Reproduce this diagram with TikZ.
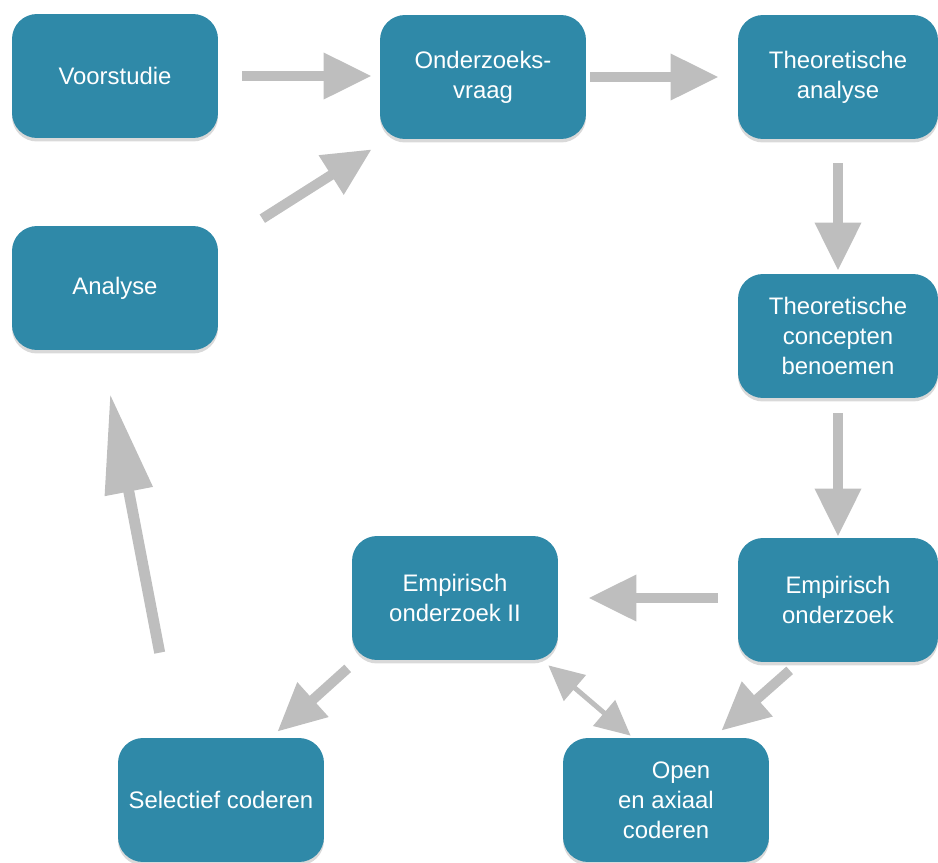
\documentclass[tikz,border=0pt]{standalone}
\usepackage{fontspec}
\setmainfont{Liberation Sans}
\usetikzlibrary{arrows.meta,shadows,calc}
\definecolor{boxteal}{RGB}{47,137,168}
\definecolor{arrowgray}{RGB}{190,190,190}
\begin{document}
\begin{tikzpicture}[x=0.02cm, y=-0.02cm,
		stap/.style = {fill=boxteal, rounded corners=0.5cm, minimum width=4.12cm, minimum height=2.48cm,
			text=white, align=center, font=\fontsize{13.6}{17}\selectfont,
			drop shadow={opacity=0.3, shadow xshift=0pt, shadow yshift=-0.07cm}},
		pijl/.style = {draw=arrowgray, line width=0.2cm, -{Triangle[length=0.96cm, width=0.88cm]}},
		tweepijl/.style = {draw=arrowgray, line width=0.1cm,
			{Triangle[length=0.7cm, width=0.66cm]}-{Triangle[length=0.7cm, width=0.66cm]}},
	]
	\useasboundingbox (0,0) rectangle (938,863);
	% boxes
	\node[stap] (voor) at (115,76) {Voorstudie};
	\node[stap] (vraag) at (483,77) {Onderzoeks-\\vraag};
	\node[stap, minimum width=4cm] (theo) at (838,77) {Theoretische\\analyse};
	\node[stap] (analyse) at (115,288) {Analyse};
	\node[stap, minimum width=4cm] (begrip) at (838,336) {Theoretische\\concepten\\benoemen};
	\node[stap] (emp2) at (455,598) {Empirisch\\onderzoek II};
	\node[stap, minimum width=4cm] (emp) at (838,600) {Empirisch\\onderzoek};
	\node[stap] (sel) at (221,800) {Selectief coderen};
	\node[stap] (open) at (666,800) {\hspace*{0.6cm}Open\\en axiaal\\coderen};
	% arrows
	\draw[pijl, shorten <=0.48cm, shorten >=0.16cm] (voor.east) -- (vraag.west |- voor.east);
	\draw[pijl, shorten <=0.08cm, shorten >=0.38cm] (vraag.east) -- (theo.west);
	\draw[pijl] ($(analyse.north east)+(44,-7)$) -- ($(vraag.south west)+(-8,10)$);
	\draw[pijl, shorten <=0.48cm, shorten >=0.06cm] (theo.south) -- (begrip.north);
	\draw[pijl, shorten <=0.3cm, shorten >=0.02cm] (begrip.south) -- (emp.north);
	\draw[pijl, shorten <=0.4cm, shorten >=0.6cm] ($(emp.west)+(0,-2)$) -- ($(emp2.east)+(0,0)$);
	\draw[pijl] ($(emp.south west)+(52,8)$) -- ($(open.north east)+(-48,-7)$);
	\draw[tweepijl] ($(emp2.south east)+(-10,5)$) -- ($(open.north west)+(68,-2)$);
	\draw[pijl] ($(emp2.south west)+(-4,8)$) -- ($(sel.north east)+(-47,-6)$);
	\draw[pijl, line width=0.22cm, -{Triangle[length=2cm, width=0.92cm]}]
		($(sel.north west)+(42,-85)$) -- ($(analyse.south)+(-5,43)$);
\end{tikzpicture}
\end{document}
